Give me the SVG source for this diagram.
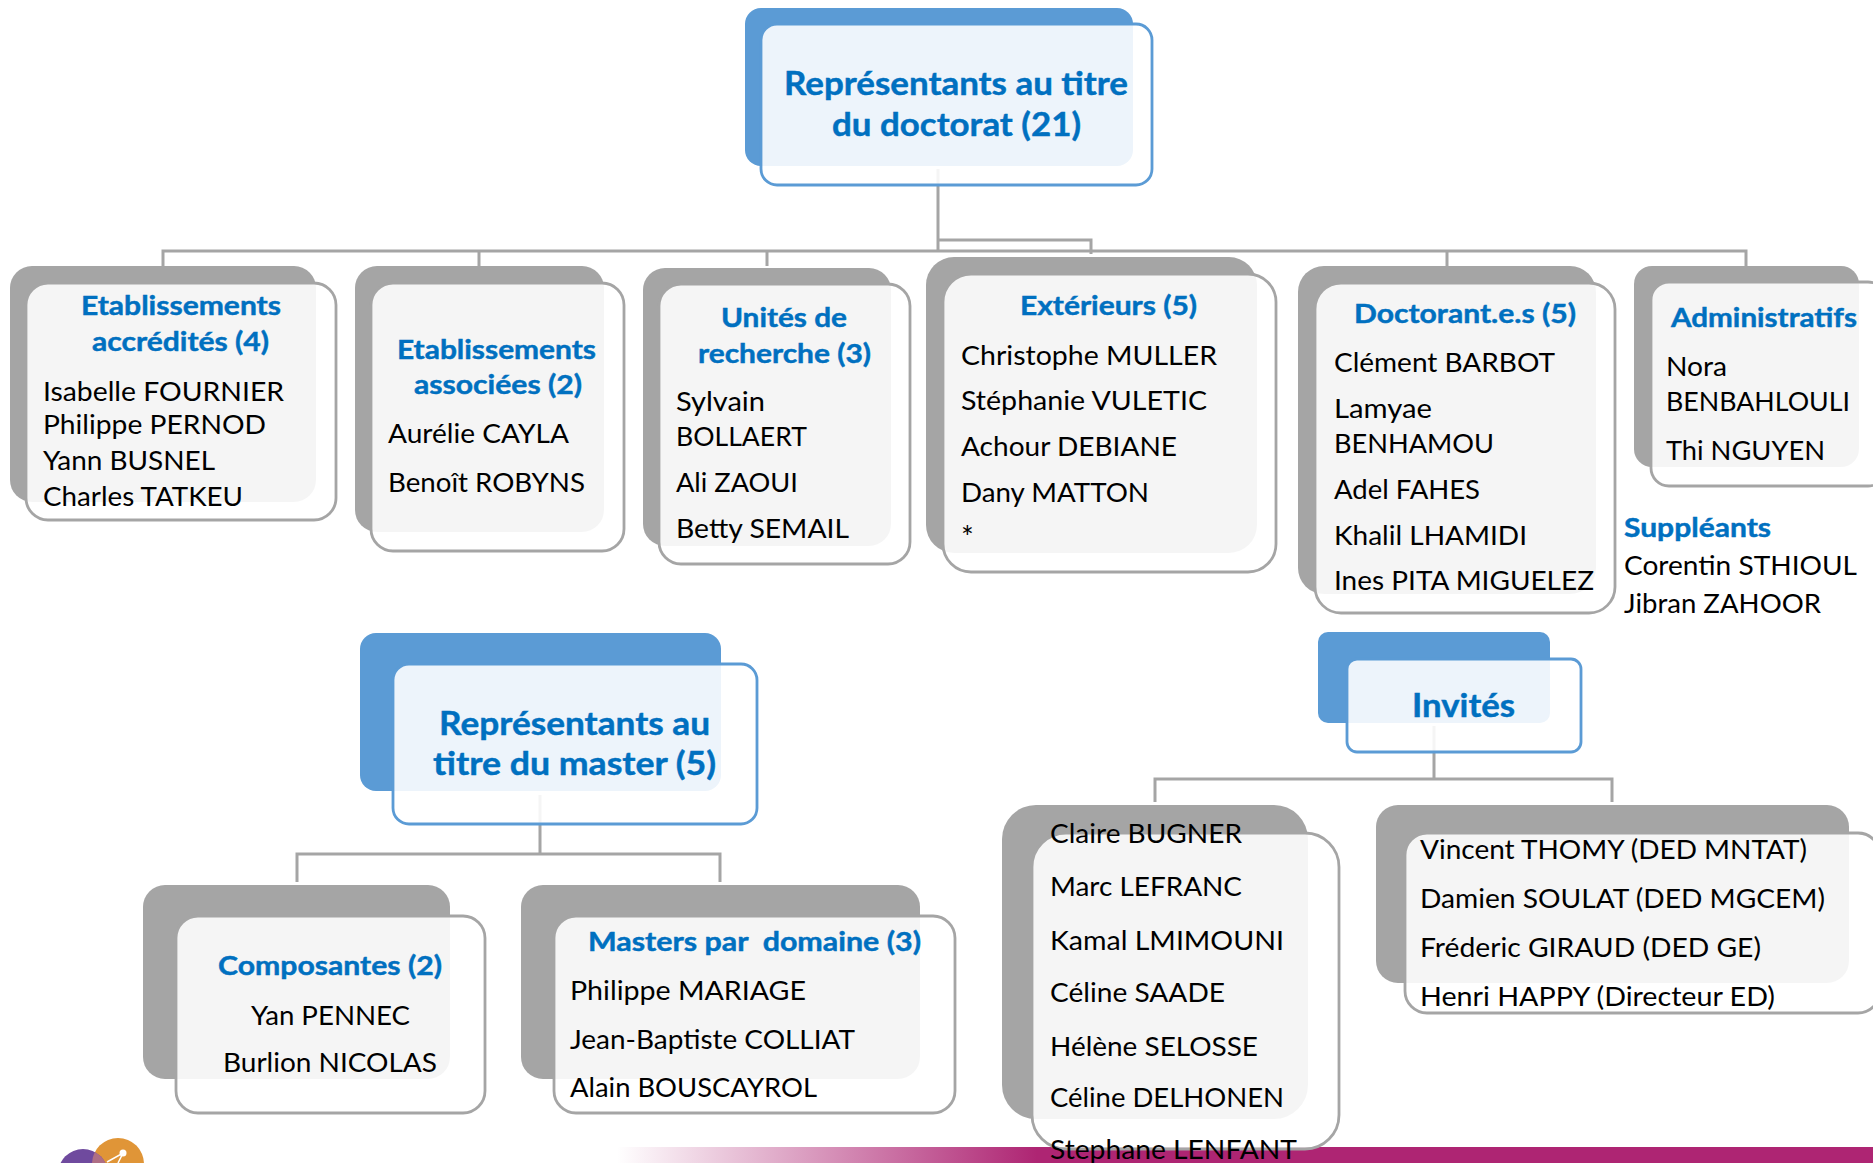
<svg xmlns="http://www.w3.org/2000/svg" width="1873" height="1163" viewBox="0 0 1873 1163">
<style>
text{font-family:Lato,"Liberation Sans",sans-serif;font-size:26.5px;fill:#000}
.t{font-weight:700;fill:#0070C0;stroke:#0070C0;stroke-width:.45}
.h{font-size:33px}
.bg{fill:#A5A5A5}.fg{fill:#fff;fill-opacity:.89;stroke:#A5A5A5;stroke-width:2.8}
.bb{fill:#5B9BD5}.fb{fill:#fff;fill-opacity:.89;stroke:#5B9BD5;stroke-width:2.8}
#connectors path{fill:none;stroke:#A5A5A5;stroke-width:3}
</style>
<defs><linearGradient id="bar" x1="0" x2="1" y1="0" y2="0"><stop offset="0" stop-color="#AE2573" stop-opacity="0"/><stop offset="1" stop-color="#AE2573"/></linearGradient>
<clipPath id="pc"><circle cx="83" cy="1174" r="25"/></clipPath></defs>
<g id="footer">
<rect x="617" y="1147" width="420" height="16" fill="url(#bar)"/><rect x="1036" y="1147" width="837" height="16" fill="#AE2573"/>
<circle cx="118" cy="1164" r="26" fill="#E09537"/><circle cx="83" cy="1174" r="25" fill="#6F4A9E"/>
<circle cx="118" cy="1164" r="26" fill="#AE6E85" clip-path="url(#pc)"/>
<path d="M107 1162L123 1153L118 1163" stroke="#fff" stroke-width="1.5" fill="none"/><circle cx="123" cy="1153" r="3.5" fill="#fff"/>
</g>
<g id="connectors">
<path d="M938 169V251M163 266V251H1746V266M479 251V266M767 251V266M1447 251V266M938 240H1091V254"/>
<path d="M540 795V854M297 882V854H720V882"/>
<path d="M1434 726V779M1155 802V779H1612V802"/>
</g>
<g id="n-doctorat"><rect class="bb" x="745" y="8" width="388" height="158" rx="16"/><rect class="fb" x="761" y="24" width="391" height="161" rx="16"/>
<text class="t h" x="784" y="95" textLength="344" lengthAdjust="spacingAndGlyphs">Représentants au titre</text>
<text class="t h" x="832" y="136" textLength="249" lengthAdjust="spacingAndGlyphs">du doctorat (21)</text></g>
<g id="n-accredites"><rect class="bg" x="10" y="266" width="306" height="236" rx="22"/><rect class="fg" x="26" y="283" width="310" height="237" rx="22"/>
<text class="t" x="81" y="315" textLength="200" lengthAdjust="spacingAndGlyphs">Etablissements</text>
<text class="t" x="92" y="351" textLength="177" lengthAdjust="spacingAndGlyphs">accrédités (4)</text>
<text x="43" y="401" textLength="241" lengthAdjust="spacingAndGlyphs">Isabelle FOURNIER</text>
<text x="43" y="434" textLength="223" lengthAdjust="spacingAndGlyphs">Philippe PERNOD</text>
<text x="43" y="470" textLength="172" lengthAdjust="spacingAndGlyphs">Yann BUSNEL</text>
<text x="43" y="506" textLength="200" lengthAdjust="spacingAndGlyphs">Charles TATKEU</text></g>
<g id="n-associees"><rect class="bg" x="355" y="266" width="249" height="266" rx="22"/><rect class="fg" x="371" y="283" width="253" height="268" rx="22"/>
<text class="t" x="397" y="359" textLength="199" lengthAdjust="spacingAndGlyphs">Etablissements</text>
<text class="t" x="414" y="394" textLength="168" lengthAdjust="spacingAndGlyphs">associées (2)</text>
<text x="388" y="443" textLength="181" lengthAdjust="spacingAndGlyphs">Aurélie CAYLA</text>
<text x="388" y="492" textLength="197" lengthAdjust="spacingAndGlyphs">Benoît ROBYNS</text></g>
<g id="n-unites"><rect class="bg" x="643" y="268" width="248" height="278" rx="22"/><rect class="fg" x="659" y="284" width="251" height="280" rx="22"/>
<text class="t" x="721" y="327" textLength="126" lengthAdjust="spacingAndGlyphs">Unités de</text>
<text class="t" x="698" y="363" textLength="173" lengthAdjust="spacingAndGlyphs">recherche (3)</text>
<text x="676" y="411" textLength="89" lengthAdjust="spacingAndGlyphs">Sylvain</text>
<text x="676" y="446" textLength="131" lengthAdjust="spacingAndGlyphs">BOLLAERT</text>
<text x="676" y="492" textLength="122" lengthAdjust="spacingAndGlyphs">Ali ZAOUI</text>
<text x="676" y="538" textLength="173" lengthAdjust="spacingAndGlyphs">Betty SEMAIL</text></g>
<g id="n-exterieurs"><rect class="bg" x="926" y="257" width="331" height="296" rx="28"/><rect class="fg" x="943" y="274" width="333" height="298" rx="28"/>
<text class="t" x="1020" y="315" textLength="177" lengthAdjust="spacingAndGlyphs">Extérieurs (5)</text>
<text x="961" y="365" textLength="256" lengthAdjust="spacingAndGlyphs">Christophe MULLER</text>
<text x="961" y="410" textLength="246" lengthAdjust="spacingAndGlyphs">Stéphanie VULETIC</text>
<text x="961" y="456" textLength="216" lengthAdjust="spacingAndGlyphs">Achour DEBIANE</text>
<text x="961" y="502" textLength="188" lengthAdjust="spacingAndGlyphs">Dany MATTON</text>
<text x="961" y="548" style="font-size:30px">*</text></g>
<g id="n-doctorants"><rect class="bg" x="1298" y="266" width="298" height="328" rx="26"/><rect class="fg" x="1315" y="283" width="300" height="330" rx="26"/>
<text class="t" x="1354" y="323" textLength="222" lengthAdjust="spacingAndGlyphs">Doctorant.e.s (5)</text>
<text x="1334" y="372" textLength="221" lengthAdjust="spacingAndGlyphs">Clément BARBOT</text>
<text x="1334" y="418" textLength="98" lengthAdjust="spacingAndGlyphs">Lamyae</text>
<text x="1334" y="453" textLength="160" lengthAdjust="spacingAndGlyphs">BENHAMOU</text>
<text x="1334" y="499" textLength="146" lengthAdjust="spacingAndGlyphs">Adel FAHES</text>
<text x="1334" y="545" textLength="193" lengthAdjust="spacingAndGlyphs">Khalil LHAMIDI</text>
<text x="1334" y="590" textLength="260" lengthAdjust="spacingAndGlyphs">Ines PITA MIGUELEZ</text></g>
<g id="n-administratifs"><rect class="bg" x="1634" y="266" width="225" height="201" rx="18"/><rect class="fg" x="1651" y="282" width="235" height="204" rx="18"/>
<text class="t" x="1671" y="327" textLength="186" lengthAdjust="spacingAndGlyphs">Administratifs</text>
<text x="1666" y="376" textLength="61" lengthAdjust="spacingAndGlyphs">Nora</text>
<text x="1666" y="411" textLength="184" lengthAdjust="spacingAndGlyphs">BENBAHLOULI</text>
<text x="1666" y="460" textLength="159" lengthAdjust="spacingAndGlyphs">Thi NGUYEN</text></g>
<g id="n-suppleants"><text class="t" x="1624" y="537" textLength="147" lengthAdjust="spacingAndGlyphs">Suppléants</text>
<text x="1624" y="575" textLength="233" lengthAdjust="spacingAndGlyphs">Corentin STHIOUL</text>
<text x="1624" y="613" textLength="197" lengthAdjust="spacingAndGlyphs">Jibran ZAHOOR</text></g>
<g id="n-master"><rect class="bb" x="360" y="633" width="361" height="158" rx="16"/><rect class="fb" x="393" y="664" width="364" height="160" rx="16"/>
<text class="t h" x="439" y="735" textLength="271" lengthAdjust="spacingAndGlyphs">Représentants au</text>
<text class="t h" x="433" y="775" textLength="283" lengthAdjust="spacingAndGlyphs">titre du master (5)</text></g>
<g id="n-invites"><rect class="bb" x="1318" y="632" width="232" height="91" rx="10"/><rect class="fb" x="1347" y="659" width="234" height="93" rx="10"/>
<text class="t h" x="1412" y="717" textLength="103" lengthAdjust="spacingAndGlyphs">Invités</text></g>
<g id="n-composantes"><rect class="bg" x="143" y="885" width="307" height="194" rx="22"/><rect class="fg" x="176" y="916" width="309" height="197" rx="22"/>
<text class="t" x="218" y="975" textLength="224" lengthAdjust="spacingAndGlyphs">Composantes (2)</text>
<text x="251" y="1025" textLength="159" lengthAdjust="spacingAndGlyphs">Yan PENNEC</text>
<text x="223" y="1072" textLength="214" lengthAdjust="spacingAndGlyphs">Burlion NICOLAS</text></g>
<g id="n-masters"><rect class="bg" x="521" y="885" width="399" height="194" rx="22"/><rect class="fg" x="554" y="916" width="401" height="197" rx="22"/>
<text class="t" x="588" y="951" textLength="333" lengthAdjust="spacingAndGlyphs" xml:space="preserve">Masters par  domaine (3)</text>
<text x="570" y="1000" textLength="236" lengthAdjust="spacingAndGlyphs">Philippe MARIAGE</text>
<text x="570" y="1049" textLength="285" lengthAdjust="spacingAndGlyphs">Jean-Baptiste COLLIAT</text>
<text x="570" y="1097" textLength="247" lengthAdjust="spacingAndGlyphs">Alain BOUSCAYROL</text></g>
<g id="n-invites-gauche"><rect class="bg" x="1002" y="805" width="306" height="314" rx="34"/><rect class="fg" x="1032" y="833" width="307" height="316" rx="34"/>
<text x="1050" y="843" textLength="192" lengthAdjust="spacingAndGlyphs">Claire BUGNER</text>
<text x="1050" y="896" textLength="192" lengthAdjust="spacingAndGlyphs">Marc LEFRANC</text>
<text x="1050" y="950" textLength="234" lengthAdjust="spacingAndGlyphs">Kamal LMIMOUNI</text>
<text x="1050" y="1002" textLength="175" lengthAdjust="spacingAndGlyphs">Céline SAADE</text>
<text x="1050" y="1056" textLength="208" lengthAdjust="spacingAndGlyphs">Hélène SELOSSE</text>
<text x="1050" y="1107" textLength="234" lengthAdjust="spacingAndGlyphs">Céline DELHONEN</text>
<text x="1050" y="1159" textLength="247" lengthAdjust="spacingAndGlyphs">Stephane LENFANT</text></g>
<g id="n-invites-droite"><rect class="bg" x="1376" y="805" width="473" height="178" rx="22"/><rect class="fg" x="1405" y="833" width="475" height="180" rx="22"/>
<text x="1420" y="859" textLength="387" lengthAdjust="spacingAndGlyphs">Vincent THOMY (DED MNTAT)</text>
<text x="1420" y="908" textLength="405" lengthAdjust="spacingAndGlyphs">Damien SOULAT (DED MGCEM)</text>
<text x="1420" y="957" textLength="341" lengthAdjust="spacingAndGlyphs">Fréderic GIRAUD (DED GE)</text>
<text x="1420" y="1006" textLength="355" lengthAdjust="spacingAndGlyphs">Henri HAPPY (Directeur ED)</text></g>
</svg>
